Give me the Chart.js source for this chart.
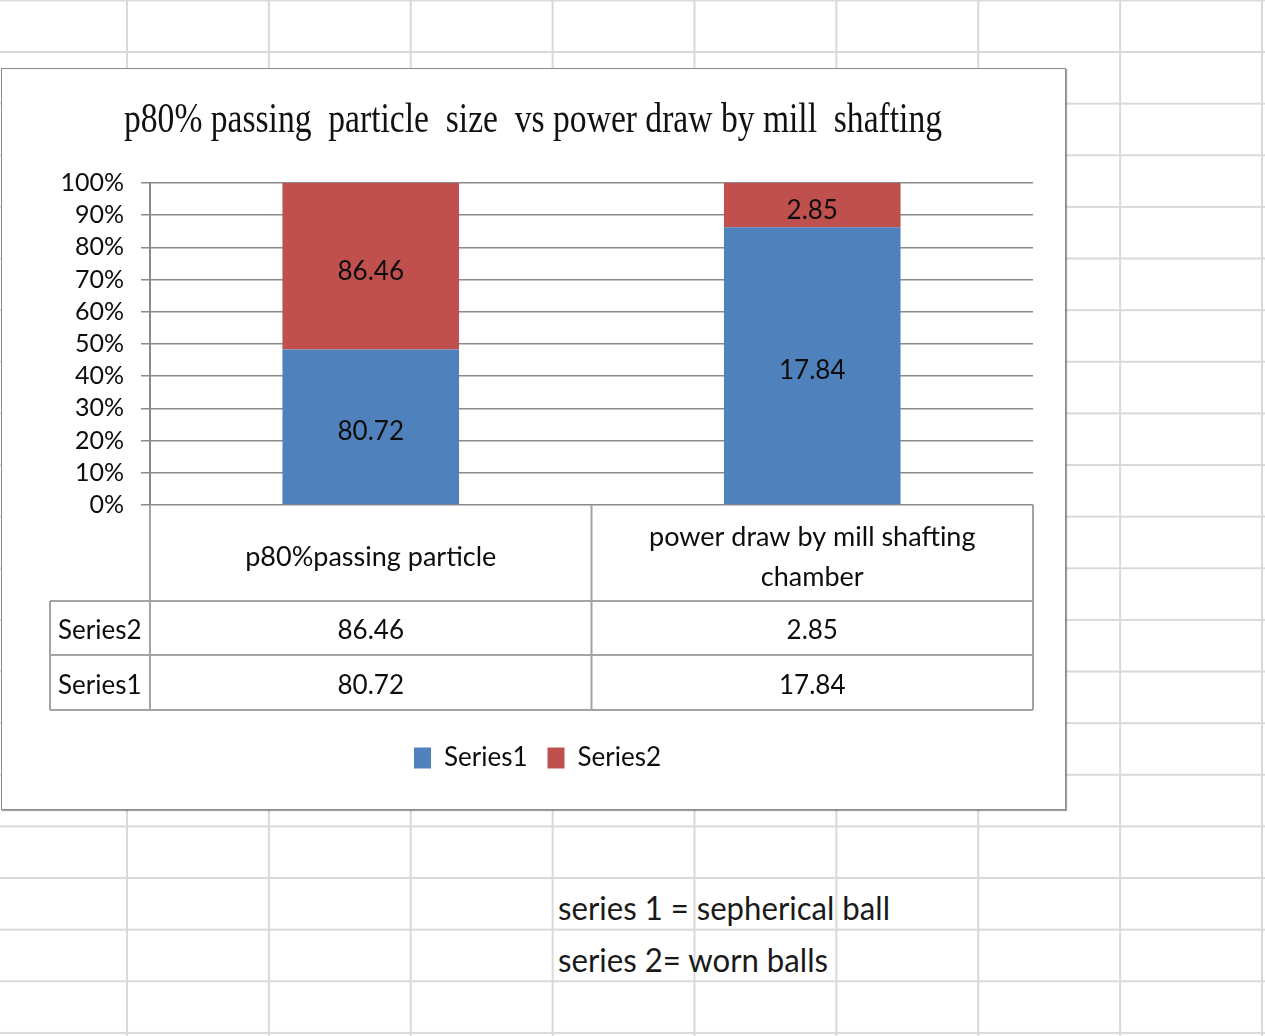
<!DOCTYPE html>
<html>
<head>
<meta charset="utf-8">
<title>p80% passing particle size vs power draw by mill shafting</title>
<script src="https://cdn.jsdelivr.net/npm/chart.js@4"></script>
<style>
  html, body { margin: 0; padding: 0; background: #fff; }
  body { width: 1265px; height: 1036px; position: relative; overflow: hidden; font-family: Lato, sans-serif; }
  #sheet {
    position: absolute; left: 0; top: 0; width: 1265px; height: 1036px;
    background-image:
      linear-gradient(to right, #d9d9d9 0, #d9d9d9 2px, transparent 2px),
      linear-gradient(to bottom, #d9d9d9 0, #d9d9d9 2px, transparent 2px);
    background-size: 141.875px 100%, 100% 51.63px;
    background-position: 126px 0, 0 -0.6px;
  }
  .cell {
    position: absolute; left: 558px; height: 40px; line-height: 40px;
    font-size: 33px; color: #1a1a1a; white-space: nowrap; transform-origin: 0 50%;
  }
  #box {
    position: absolute; left: 1px; top: 68px; width: 1065px; height: 742px;
    box-sizing: border-box; border: 1px solid #8a8a8a; background: #fff;
    box-shadow: 1px 1px 1px rgba(0,0,0,0.35);
  }
  #chart { position: absolute; left: 0; top: 0; }
</style>
</head>
<body>
<div id="sheet"></div>
<div class="cell" id="note1" data-w="332" style="top:887px">series 1 = sepherical ball</div>
<div class="cell" id="note2" data-w="270" style="top:939px">series 2= worn balls</div>
<div id="box"><canvas id="chart" width="1063" height="740"></canvas></div>

<script>
// Chart data
const chartTitle = 'p80% passing  particle  size  vs power draw by mill  shafting';
const categories = ['p80%passing particle', 'power draw by mill shafting chamber'];
const seriesNames = ['Series1', 'Series2'];
const series1 = [80.72, 17.84];
const series2 = [86.46, 2.85];
const percentTicks = [0, 10, 20, 30, 40, 50, 60, 70, 80, 90, 100];

const seriesColors = ['#4f81bd', '#c0504d'];
const rawSeries = [series1, series2];

// 100% stacked: each column is split by the share of its total
const totals = categories.map((_, i) => series1[i] + series2[i]);
const shares = rawSeries.map(s => s.map((v, i) => v / totals[i] * 100));

const FONT = 'Lato';
const TEXT = '#0d0d0d';

// Chart title in a condensed serif face
const titlePlugin = {
  id: 'condensedTitle',
  afterDraw(chart) {
    const ctx = chart.ctx;
    ctx.save();
    ctx.font = '42px "Liberation Serif", "Times New Roman", serif';
    ctx.fillStyle = '#111';
    ctx.textBaseline = 'alphabetic';
    const w = ctx.measureText(chartTitle).width;
    const target = 818;
    ctx.translate(531, 63);
    ctx.scale(target / w, 1);
    ctx.textAlign = 'center';
    ctx.fillText(chartTitle, 0, 0);
    ctx.restore();
  }
};

// Value labels in the middle of every segment
const segmentLabels = {
  id: 'segmentLabels',
  afterDatasetsDraw(chart) {
    const ctx = chart.ctx;
    ctx.save();
    ctx.font = '26px ' + FONT;
    ctx.fillStyle = TEXT;
    ctx.textAlign = 'center';
    ctx.textBaseline = 'middle';
    chart.data.datasets.forEach((ds, di) => {
      chart.getDatasetMeta(di).data.forEach((bar, i) => {
        const p = bar.getProps(['x', 'y', 'base'], true);
        ctx.fillText(String(ds.raw[i]), p.x, (p.y + p.base) / 2 + 5);
      });
    });
    ctx.restore();
  }
};

function wrapText(ctx, text, maxWidth) {
  const words = text.split(' ');
  const lines = [];
  let line = '';
  words.forEach(word => {
    const test = line ? line + ' ' + word : word;
    if (line && ctx.measureText(test).width > maxWidth) {
      lines.push(line);
      line = word;
    } else {
      line = test;
    }
  });
  if (line) lines.push(line);
  return lines;
}

// Data table under the category axis
const dataTable = {
  id: 'dataTable',
  afterDraw(chart) {
    const { ctx, chartArea: ca, scales: { x } } = chart;
    const left = ca.left, right = ca.right;
    const centers = categories.map((_, i) => x.getPixelForValue(i));
    const dividers = [];
    for (let i = 1; i < centers.length; i++) dividers.push((centers[i - 1] + centers[i]) / 2);
    const top = ca.bottom;
    const headerBottom = top + 96;
    const rowH = [54, 55];
    const rowTops = [headerBottom, headerBottom + rowH[0]];
    const tableBottom = rowTops[1] + rowH[1];
    const nameLeft = 48;

    ctx.save();
    ctx.strokeStyle = '#a3a3a3';
    ctx.lineWidth = 2;
    ctx.beginPath();
    // verticals
    ctx.moveTo(left, top); ctx.lineTo(left, tableBottom);
    dividers.forEach(d => { ctx.moveTo(d, top); ctx.lineTo(d, tableBottom); });
    ctx.moveTo(right, top); ctx.lineTo(right, tableBottom);
    ctx.moveTo(nameLeft, headerBottom); ctx.lineTo(nameLeft, tableBottom);
    // horizontals
    [headerBottom, rowTops[1], tableBottom].forEach(yy => {
      ctx.moveTo(nameLeft, yy); ctx.lineTo(right, yy);
    });
    ctx.stroke();

    ctx.fillStyle = TEXT;
    ctx.textBaseline = 'middle';
    ctx.textAlign = 'center';
    ctx.font = '27px ' + FONT;
    const colW = centers.length > 1 ? centers[1] - centers[0] : right - left;
    categories.forEach((name, i) => {
      const lines = wrapText(ctx, name, colW * 0.85);
      const lh = 40;
      const mid = top + 52;
      lines.forEach((ln, k) => {
        ctx.fillText(ln, centers[i], mid + (k - (lines.length - 1) / 2) * lh);
      });
    });

    // rows: Series2 above Series1
    ctx.font = '26px ' + FONT;
    const order = [1, 0];
    order.forEach((si, r) => {
      const cy = rowTops[r] + rowH[r] / 2 + 3;
      ctx.textAlign = 'left';
      ctx.fillText(seriesNames[si], nameLeft + 8, cy);
      ctx.textAlign = 'center';
      rawSeries[si].forEach((v, i) => ctx.fillText(String(v), centers[i], cy));
    });
    ctx.restore();
  }
};

function fitNotes() {
  document.querySelectorAll('.cell').forEach(el => {
    const w = el.getBoundingClientRect().width;
    const target = parseFloat(el.dataset.w);
    el.style.transform = 'scaleX(' + (target / w) + ')';
  });
}

function build() {
  fitNotes();
  new Chart(document.getElementById('chart'), {
    type: 'bar',
    data: {
      labels: categories,
      datasets: seriesNames.map((name, i) => ({
        label: name,
        data: shares[i],
        raw: rawSeries[i],
        backgroundColor: seriesColors[i],
        borderWidth: 0,
        categoryPercentage: 1,
        barPercentage: 0.4
      }))
    },
    options: {
      responsive: false,
      animation: false,
      events: [],
      layout: { padding: { top: 114, left: 40, right: 32, bottom: 28 } },
      plugins: {
        title: { display: false },
        tooltip: { enabled: false },
        legend: {
          position: 'bottom',
          labels: {
            font: { family: FONT, size: 26 },
            color: TEXT,
            boxWidth: 17,
            boxHeight: 21,
            padding: 20
          }
        }
      },
      scales: {
        x: {
          stacked: true,
          grid: { display: false },
          border: { display: false },
          ticks: { display: false },
          afterFit(scale) { scale.height = 220; }
        },
        y: {
          stacked: true,
          min: 0,
          max: 100,
          afterBuildTicks(scale) { scale.ticks = percentTicks.map(v => ({ value: v })); },
          afterFit(scale) { scale.width = 108; },
          ticks: {
            callback: v => v + '%',
            font: { family: FONT, size: 25, lineHeight: 1 },
            color: TEXT,
            padding: 17,
            autoSkip: false
          },
          grid: { color: '#8a8a8a', lineWidth: 1.5, tickLength: 9 },
          border: { color: '#8a8a8a', width: 2 }
        }
      }
    },
    plugins: [titlePlugin, segmentLabels, dataTable]
  });
}

Promise.all([
  document.fonts.load('26px Lato'),
  document.fonts.load('42px "Liberation Serif"')
]).catch(() => {}).then(build);
</script>
</body>
</html>
